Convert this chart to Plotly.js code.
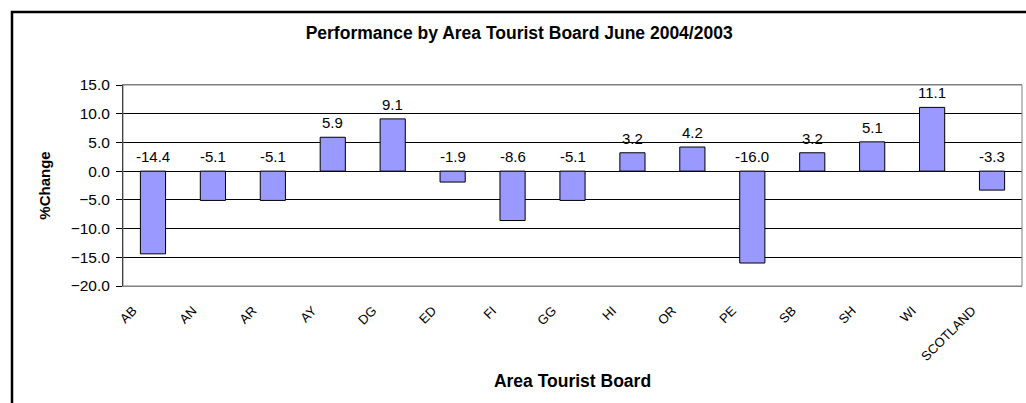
<!DOCTYPE html>
<html>
<head>
<meta charset="utf-8">
<script src="https://cdn.plot.ly/plotly-3.0.1.min.js"></script>
<style>
  html, body { margin: 0; padding: 0; background: #fff; overflow: hidden; }
  #chart { width: 1026px; height: 403px; }
</style>
</head>
<body>
<div id="chart"></div>
<script>
const categories = ["AB", "AN", "AR", "AY", "DG", "ED", "FI", "GG", "HI", "OR", "PE", "SB", "SH", "WI", "SCOTLAND"];
const pctChange = [-14.4, -5.1, -5.1, 5.9, 9.1, -1.9, -8.6, -5.1, 3.2, 4.2, -16.0, 3.2, 5.1, 11.1, -3.3];
const yTickValues = [15, 10, 5, 0, -5, -10, -15, -20];
const chartTitle = "Performance by Area Tourist Board June 2004/2003";
const xTitle = "Area Tourist Board";
const yTitle = "%Change";

const FONT = "Liberation Sans, Arial, sans-serif";

const trace = {
  type: "bar",
  x: categories,
  y: pctChange,
  marker: { color: "#9999FF", line: { color: "#000000", width: 1 } },
  hoverinfo: "x+y"
};

const annotations = categories.map((c, i) => ({
  x: c,
  y: Math.max(pctChange[i], 0),
  xref: "x",
  yref: "y",
  text: pctChange[i].toFixed(1),
  showarrow: false,
  yanchor: "bottom",
  yshift: 4,
  font: { family: FONT, size: 15, color: "#000" }
}));

const layout = {
  width: 1026,
  height: 403,
  margin: { l: 123, r: 4, t: 85, b: 117 },
  paper_bgcolor: "#ffffff",
  plot_bgcolor: "#ffffff",
  showlegend: false,
  bargap: 0.58,
  font: { family: FONT, color: "#000" },
  title: {
    text: chartTitle,
    x: 0.506,
    xref: "container",
    xanchor: "center",
    y: 1 - 33 / 403,
    yref: "container",
    yanchor: "middle",
    font: { family: FONT, size: 17.5, color: "#000", weight: "bold" }
  },
  xaxis: {
    type: "category",
    tickangle: -45,
    ticks: "",
    showline: true,
    linecolor: "#808080",
    linewidth: 1,
    mirror: true,
    showgrid: false,
    zeroline: false,
    ticklabelshift: -20,
    ticklabelstandoff: 11,
    tickfont: { family: FONT, size: 13, color: "#000" },
    title: {
      text: xTitle,
      standoff: 11,
      font: { family: FONT, size: 17.5, color: "#000", weight: "bold" }
    }
  },
  yaxis: {
    range: [-20, 15],
    tickvals: yTickValues,
    tickformat: ".1f",
    ticks: "outside",
    ticklen: 6,
    tickcolor: "#000",
    tickwidth: 1,
    ticklabelstandoff: 3,
    showline: true,
    linecolor: "#000",
    linewidth: 1,
    mirror: false,
    showgrid: true,
    gridcolor: "#000",
    gridwidth: 1,
    zeroline: true,
    zerolinecolor: "#000",
    zerolinewidth: 1,
    tickfont: { family: FONT, size: 15.5, color: "#000" },
    title: {
      text: yTitle,
      standoff: 16,
      font: { family: FONT, size: 15, color: "#000", weight: "bold" }
    }
  },
  annotations: annotations,
  shapes: [
    {
      type: "rect",
      xref: "paper", yref: "paper",
      x0: 0, x1: 1, y0: 0, y1: 1,
      line: { color: "#808080", width: 1 },
      fillcolor: "rgba(0,0,0,0)",
      layer: "above"
    },
    {
      type: "rect",
      xref: "paper", yref: "paper",
      x0: (12 - 123) / 899, x1: (1040 - 123) / 899,
      y0: (286 - 420) / 201, y1: (286 - 12) / 201,
      line: { color: "#000", width: 2.5 },
      fillcolor: "rgba(0,0,0,0)",
      layer: "above"
    }
  ]
};

Plotly.newPlot("chart", [trace], layout, { displayModeBar: false, staticPlot: true });
</script>
</body>
</html>
